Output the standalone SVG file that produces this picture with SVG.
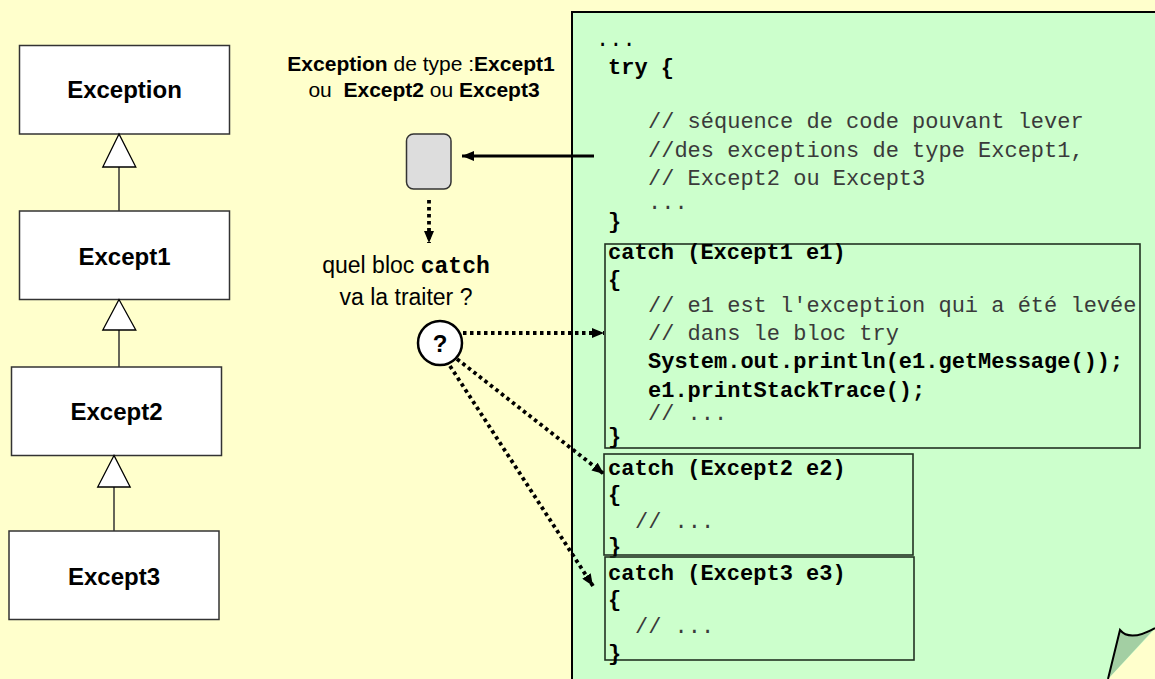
<svg xmlns="http://www.w3.org/2000/svg" width="1155" height="679" viewBox="0 0 1155 679">
  <defs>
    <style>
      .cls { fill: #fff; stroke: #333; stroke-width: 1.5; }
      .cls-t { font-family: "Liberation Sans", Arial, sans-serif; font-weight: bold; font-size: 24px; text-anchor: middle; fill: #000; }
      .inh { fill: #fff; stroke: #000; stroke-width: 1.3; }
      .inh-l { stroke: #333; stroke-width: 1.5; fill: none; }
      .lbl { font-family: "Liberation Sans", Arial, sans-serif; font-size: 21px; fill: #000; }
      .b { font-weight: bold; }
      .code { font-family: "Liberation Mono", "Courier New", monospace; font-size: 22px; fill: #000; white-space: pre; }
      .cb { font-weight: bold; fill: #000; }
      .cm { fill: #3a3a3a; }
      .blk { fill: none; stroke: #223322; stroke-width: 1.6; }
      .dot { stroke: #000; stroke-width: 3.8; stroke-dasharray: 3.5 3.5; fill: none; }
    </style>
    <marker id="headSolid" viewBox="0 0 12 10" refX="12" refY="5" markerWidth="12" markerHeight="10" markerUnits="userSpaceOnUse" orient="auto">
      <path d="M0,0 L12,5 L0,10 Z" fill="#000"/>
    </marker>
    <marker id="headDot" viewBox="0 0 12 10" refX="12" refY="5" markerWidth="12" markerHeight="10" markerUnits="userSpaceOnUse" orient="auto">
      <path d="M0,0 L12,5 L0,10 Z" fill="#000"/>
    </marker>
  </defs>

  <!-- background -->
  <rect x="0" y="0" width="1155" height="679" fill="#FFFFCC"/>

  <!-- code sheet -->
  <g id="code-panel">
    <path d="M572,12 H1155 V629 L1108,679 H572 Z" fill="#CCFFCC"/>
    <path d="M572,679 V12 H1155" fill="none" stroke="#000" stroke-width="2"/>
    <path d="M1108,679 L1120,630 Q1130,642 1155,628 Z" fill="#A3CFA3"/>
    <path d="M1108,679 L1120,630 Q1130,642 1155,628" fill="none" stroke="#000" stroke-width="2"/>

    <text class="code" x="596" y="46">...</text>
    <text class="code cb" x="608" y="74">try {</text>
    <text class="code cm" x="648" y="128">// séquence de code pouvant lever</text>
    <text class="code cm" x="648" y="157">//des exceptions de type Except1,</text>
    <text class="code cm" x="648" y="185">// Except2 ou Except3</text>
    <text class="code cm" x="648" y="209">...</text>
    <text class="code cb" x="608" y="228">}</text>
  </g>

  <g id="catch1">
    <rect class="blk" x="605" y="244" width="535" height="204"/>
    <text class="code cb" x="608" y="259">catch (Except1 e1)</text>
    <text class="code cb" x="608" y="286">{</text>
    <text class="code cm" x="648" y="312">// e1 est l'exception qui a été levée</text>
    <text class="code cm" x="648" y="340">// dans le bloc try</text>
    <text class="code cb" x="648" y="368">System.out.println(e1.getMessage());</text>
    <text class="code cb" x="648" y="397">e1.printStackTrace();</text>
    <text class="code cm" x="648" y="420">// ...</text>
    <text class="code cb" x="608" y="443">}</text>
  </g>

  <g id="catch2">
    <rect class="blk" x="604" y="454" width="309" height="101"/>
    <text class="code cb" x="608" y="475">catch (Except2 e2)</text>
    <text class="code cb" x="608" y="501">{</text>
    <text class="code cm" x="635" y="528">// ...</text>
    <text class="code cb" x="608" y="553">}</text>
  </g>

  <g id="catch3">
    <rect class="blk" x="605" y="557" width="309" height="103"/>
    <text class="code cb" x="608" y="580">catch (Except3 e3)</text>
    <text class="code cb" x="608" y="606">{</text>
    <text class="code cm" x="635" y="633">// ...</text>
    <text class="code cb" x="608" y="660">}</text>
  </g>

  <!-- class hierarchy -->
  <g id="exception">
    <rect class="cls" x="19.5" y="45.5" width="210" height="88.5"/>
    <text class="cls-t" x="124.5" y="98">Exception</text>
  </g>
  <g id="except1">
    <rect class="cls" x="19.5" y="211" width="210" height="88.5"/>
    <text class="cls-t" x="124.5" y="265">Except1</text>
  </g>
  <g id="except2">
    <rect class="cls" x="11.5" y="367" width="210" height="88.5"/>
    <text class="cls-t" x="116.5" y="420">Except2</text>
  </g>
  <g id="except3">
    <rect class="cls" x="9" y="531" width="210" height="88.5"/>
    <text class="cls-t" x="114" y="585">Except3</text>
  </g>

  <!-- exception type label -->
  <g id="type-label">
    <text class="lbl" x="421" y="71" text-anchor="middle"><tspan class="b">Exception</tspan> de type :<tspan class="b">Except1</tspan></text>
    <text class="lbl" x="424" y="97" text-anchor="middle" style="white-space:pre">ou  <tspan class="b">Except2</tspan> ou <tspan class="b">Except3</tspan></text>
  </g>

  <!-- thrown exception -->
  <g id="thrown">
    <rect x="406.5" y="134" width="44.5" height="55" rx="7" fill="#DDDDDD" stroke="#333" stroke-width="1.5"/>
  </g>

  <g id="question-label">
    <text class="lbl" x="406" y="273" text-anchor="middle" style="font-size:23px">quel bloc <tspan font-family="Liberation Mono, Courier New, monospace" font-weight="bold">catch</tspan></text>
    <text class="lbl" x="406" y="305" text-anchor="middle" style="font-size:23px">va la traiter ?</text>
  </g>

  <g id="question">
    <circle cx="440" cy="343" r="22" fill="#fff" stroke="#000" stroke-width="2.5"/>
    <text x="440" y="352" text-anchor="middle" font-family="Liberation Sans, Arial, sans-serif" font-weight="bold" font-size="24">?</text>
  </g>

  <!-- connectors -->
  <g id="connectors">
    <!-- inheritance -->
    <line class="inh-l" x1="119" y1="167" x2="119" y2="211"/>
    <polygon class="inh" points="119,134 102.8,167 135.8,167"/>
    <line class="inh-l" x1="119" y1="330" x2="119" y2="367"/>
    <polygon class="inh" points="119,299.5 102.8,330 135.8,330"/>
    <line class="inh-l" x1="114" y1="487" x2="114" y2="531"/>
    <polygon class="inh" points="114,455.5 97.7,487 130.2,487"/>

    <!-- raised exception -->
    <line x1="594" y1="156" x2="462" y2="156" stroke="#000" stroke-width="3" marker-end="url(#headSolid)"/>
    <line class="dot" x1="429" y1="200" x2="429" y2="243" marker-end="url(#headDot)"/>

    <!-- candidate handlers -->
    <line class="dot" x1="463" y1="333" x2="604" y2="333" marker-end="url(#headDot)"/>
    <line class="dot" x1="457" y1="359" x2="604" y2="474" marker-end="url(#headDot)"/>
    <line class="dot" x1="450" y1="366" x2="593" y2="586" marker-end="url(#headDot)"/>
  </g>
</svg>
